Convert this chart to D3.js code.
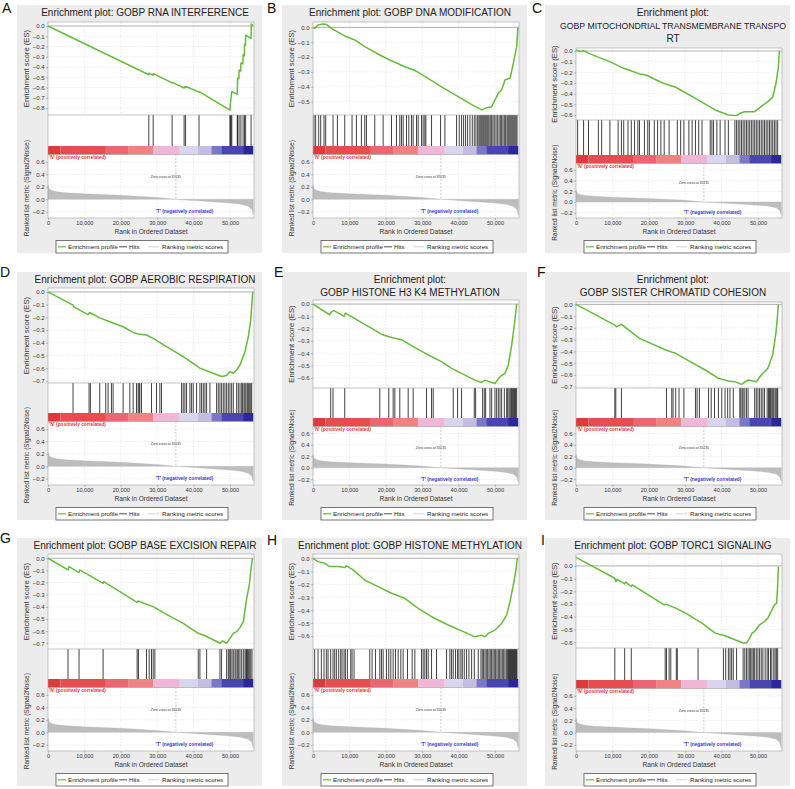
<!DOCTYPE html>
<html><head><meta charset="utf-8">
<script src="https://cdn.jsdelivr.net/npm/d3@7"></script>
<style>
body{margin:0;background:#fff}
svg{display:block}
text{font-family:"Liberation Sans",Arial,sans-serif}
</style>
</head><body>
<svg id="chart" width="795" height="789"></svg>
<script>
// ---------------- DATA ----------------
const panelLetters = ["A","B","C","D","E","F","G","H","I"];
const panelTitles = [
  ["Enrichment plot: GOBP RNA INTERFERENCE"],
  ["Enrichment plot: GOBP DNA MODIFICATION"],
  ["Enrichment plot:", "GOBP MITOCHONDRIAL TRANSMEMBRANE TRANSPO", "RT"],
  ["Enrichment plot: GOBP AEROBIC RESPIRATION"],
  ["Enrichment plot:", "GOBP HISTONE H3 K4 METHYLATION"],
  ["Enrichment plot:", "GOBP SISTER CHROMATID COHESION"],
  ["Enrichment plot: GOBP BASE EXCISION REPAIR"],
  ["Enrichment plot: GOBP HISTONE METHYLATION"],
  ["Enrichment plot: GOBP TORC1 SIGNALING"]
];
const xTicks = [0, 10000, 20000, 30000, 40000, 50000];
const rankTicks = [-0.2, 0.0, 0.2, 0.4, 0.6];
const zeroCross = 35135;
const legendLabels = ["Enrichment profile", "Hits", "Ranking metric scores"];
const posLabel = "'N' (positively correlated)";
const negLabel = "'T' (negatively correlated)";

// ranked list metric (same list for all panels)
const rankMetric = [[0,0.23],[300,0.17],[1000,0.14],[2500,0.12],[5000,0.105],[10000,0.09],[20000,0.065],[30000,0.03],[35135,0],[40000,-0.02],[45000,-0.04],[50000,-0.06],[53000,-0.08],[55000,-0.11],[56000,-0.16],[56400,-0.25]];
// colour bar
const cbStops = [0,3400,15900,22000,28900,36200,41200,44900,47600,53600,56400];
const cbColors = ["#dc3a3c","#e54d50","#ea6672","#ef8282","#f0b6d6","#d9d5ee","#c3bde2","#7a76c8","#4a46b0","#2a2898"];

// enrichment score curves [rank, ES]
const esA = [[0,0],[27700,-0.475],[27750,-0.46],[28900,-0.48],[28950,-0.465],[34100,-0.555],[34150,-0.55],[37400,-0.605],[37450,-0.595],[37800,-0.6],[37850,-0.59],[41500,-0.645],[41550,-0.64],[50000,-0.82],[50100,-0.76],[50300,-0.70],[50500,-0.64],[52000,-0.665],[52100,-0.51],[52450,-0.515],[52500,-0.43],[52950,-0.44],[53000,-0.36],[53550,-0.37],[53600,-0.28],[53950,-0.29],[54000,-0.18],[54250,-0.185],[54300,-0.09],[55800,-0.12],[55850,0.02],[56400,0.0]];
const esB = [[0,0],[460,-0.007],[1380,0.016],[2750,0.022],[3670,0.02],[5050,-0.007],[8720,-0.058],[11470,-0.085],[14220,-0.13],[18350,-0.186],[21100,-0.22],[25230,-0.265],[27980,-0.29],[30730,-0.33],[35320,-0.40],[39910,-0.466],[43580,-0.52],[46330,-0.556],[47250,-0.545],[49080,-0.534],[50920,-0.444],[51830,-0.42],[52750,-0.354],[54130,-0.343],[55040,-0.242],[55960,-0.13],[56300,0]];
const esC = [[0,0.01],[1175,-0.006],[2080,0.003],[3435,-0.02],[5695,-0.053],[9310,-0.1],[12930,-0.16],[14740,-0.18],[17450,-0.215],[19255,-0.225],[23775,-0.3],[27390,-0.34],[32815,-0.444],[38240,-0.553],[41855,-0.6],[44115,-0.606],[45020,-0.584],[46375,-0.569],[49090,-0.569],[50900,-0.52],[52710,-0.475],[54070,-0.43],[54975,-0.30],[55610,-0.147],[55880,0]];
const esD = [[0,0],[6880,-0.104],[7060,-0.117],[11010,-0.178],[11470,-0.162],[14220,-0.204],[16970,-0.235],[20640,-0.274],[23390,-0.319],[25230,-0.334],[27060,-0.339],[28900,-0.366],[32570,-0.43],[37150,-0.51],[41740,-0.60],[45410,-0.64],[47700,-0.666],[49080,-0.658],[50000,-0.627],[50920,-0.64],[51830,-0.614],[52750,-0.575],[54130,-0.47],[55040,-0.353],[55690,-0.222],[56240,0]];
const esE = [[0,0],[4590,-0.087],[5050,-0.065],[5780,-0.054],[8530,-0.10],[8900,-0.074],[17890,-0.229],[18810,-0.245],[20640,-0.264],[22480,-0.278],[24310,-0.29],[27060,-0.338],[30730,-0.40],[35320,-0.469],[38070,-0.523],[41740,-0.578],[44490,-0.619],[46330,-0.638],[47250,-0.619],[49080,-0.638],[50000,-0.646],[50460,-0.627],[51380,-0.591],[52750,-0.564],[53670,-0.496],[54590,-0.332],[55320,-0.169],[55960,0]];
const esF = [[0,0],[10670,-0.176],[11120,-0.19],[12020,-0.176],[12480,-0.17],[17450,-0.289],[24680,-0.388],[26490,-0.408],[27390,-0.416],[31010,-0.48],[35530,-0.558],[39140,-0.629],[41860,-0.652],[43660,-0.657],[45470,-0.68],[47280,-0.643],[48640,-0.652],[49540,-0.657],[50900,-0.60],[52710,-0.544],[54060,-0.43],[54970,-0.232],[55230,-0.147],[55600,0]];
const esG = [[0,0],[5500,-0.096],[5780,-0.069],[8530,-0.118],[8720,-0.096],[15140,-0.206],[15320,-0.192],[24490,-0.363],[24770,-0.352],[27060,-0.379],[28900,-0.398],[32570,-0.462],[37150,-0.536],[41280,-0.618],[42660,-0.632],[44950,-0.665],[47250,-0.70],[47980,-0.68],[49080,-0.70],[50000,-0.66],[50920,-0.618],[51830,-0.604],[52750,-0.571],[53670,-0.522],[54590,-0.33],[55320,-0.22],[55690,-0.11],[56150,0]];
const esH = [[0,0],[1380,-0.026],[3210,-0.039],[4590,-0.064],[6880,-0.064],[8720,-0.072],[9170,-0.057],[11010,-0.09],[14220,-0.168],[17890,-0.219],[21560,-0.27],[25230,-0.309],[28900,-0.387],[32570,-0.451],[37150,-0.515],[41740,-0.572],[44490,-0.606],[46330,-0.593],[47250,-0.606],[48160,-0.58],[50000,-0.554],[51830,-0.503],[53210,-0.438],[54130,-0.335],[55040,-0.206],[55690,-0.103],[56150,0]];
const esI = [[0,0.068],[10670,-0.097],[10940,-0.123],[11300,-0.105],[13380,-0.141],[13650,-0.128],[15190,-0.162],[15460,-0.149],[24230,-0.306],[24680,-0.301],[27390,-0.332],[30100,-0.372],[34620,-0.45],[38240,-0.529],[40950,-0.55],[43660,-0.581],[45920,-0.607],[46830,-0.607],[47730,-0.568],[48360,-0.529],[49090,-0.516],[50440,-0.463],[51800,-0.437],[52710,-0.411],[53610,-0.359],[54510,-0.306],[55140,-0.293],[55420,-0.149],[55600,-0.005]];

// hit positions (rank)
const hitsA = [27700,28900,34100,37400,37800,41500,50000,50100,50300,50500,52000,52100,52500,53000,53600,54000,54300,55800];
const hitsB = [275,734,1560,2110,3030,3490,5500,6700,8720,10730,11930,13300,14220,14680,16970,19270,21560,22940,23850,24310,24770,25690,26330,27060,27520,28440,28900,29820,30270,30730,31010,32570,35050,36240,39450,40180,40820,41380,41920,42480,43120,43760,44310,44770,45230,45590,45870,46150,46420,46700,46970,47250,47520,47800,48070,48350,48710,49080,49450,49810,50270,50640,51100,51470,51830,52200,52570,52930,53300,53580,53850,54130,54400,54680,54950,55230,55500,55780,56050];
const hitsC = [452,2080,3435,6150,7050,9310,11570,12475,13110,14280,15190,16090,16995,17450,18800,19710,20160,21515,22420,23320,24230,25580,27840,28750,29650,31010,31910,32820,33720,34620,36880,37340,37790,38690,39600,40950,41860,43660,44120,44570,45020,45470,45920,46380,46830,47280,47730,48180,48640,49090,49540,49990,50440,50900,51350,51800,52250,52710,53160,53610,54060,54510,54960,55410];
const hitsD = [6880,11280,11650,14220,15870,16510,17430,17890,20640,22480,23390,24310,24770,25050,25230,25690,28440,29820,30730,31190,36700,37150,37610,38070,38990,39450,39910,40820,41740,42200,42660,43120,43580,44490,46330,46790,47250,47700,48160,48620,49080,49540,50000,50460,50920,51830,52290,52750,53210,53480,53850,54130,54400,54770,55040,55320,55690,55960];
const hitsE = [4860,5500,8720,18350,20820,22020,22480,23850,26150,27520,31190,32570,33030,38530,39720,40820,44310,44680,46610,47060,47430,48620,49080,50000,50460,50920,51380,51830,52570,53210,53480,53850,54130,54400,54590,54860,55040,55320,55500,55690,55960];
const hitsF = [10670,10940,12480,24860,26310,26670,27390,28300,29650,32820,33270,33900,36430,37150,38060,39140,40050,40950,41670,42310,43210,45020,45290,45650,45920,46380,46830,47280,49090,49540,49990,50440,50900,51350,51800,52520,52880,53160,53430,53790,54060,54340,54700,54970,55240,55420];
const hitsG = [5500,8530,15140,24490,24860,27060,27800,28440,28900,29360,41280,41740,43580,47250,47700,49080,49540,49810,50180,50550,50920,51380,51650,52020,52390,52750,53210,53670,54130,54400,54590,54770,55040,55320,55690,56050];
const hitsH = [460,1380,2290,3030,3670,4130,4860,5500,5960,6420,7060,7610,7980,8530,8900,9450,10370,10730,11280,15600,16240,17160,18350,18810,19270,20180,20820,21380,22020,22660,23390,24130,24770,25960,27250,27980,29820,30270,30730,31190,31650,32570,33940,36700,37610,38070,38530,39170,39720,40090,40640,41010,41560,42200,42840,43580,44310,45410,46150,46510,46880,47250,47610,47980,48350,48710,49080,49450,49810,50180,50550,50920,51280,51650,52020,52390,52750,53120,53480,53670,53850,54040,54220,54400,54590,54770,54950,55140,55320,55500,55690,55870,56050];
const hitsI = [10670,13380,15190,24500,24860,25580,26040,27570,27840,33540,40500,41130,41860,42310,42760,43210,44120,45920,46380,46830,47280,47730,48000,48360,48730,49090,49540,49990,50440,50900,51350,51980,52520,52880,53430,53790,54340,54700,55060,55420];

const esCurves = [esA, esB, esC, esD, esE, esF, esG, esH, esI];
const hitSets = [hitsA, hitsB, hitsC, hitsD, hitsE, hitsF, hitsG, hitsH, hitsI];
const esDomains = [[-0.868,0.039],[-0.59,0.036],[-0.647,0.028],[-0.717,0.031],[-0.683,0.033],[-0.711,0.02],[-0.747,0.035],[-0.70,0.033],[-0.646,0.094]];

// ---------------- LAYOUT ----------------
const colLeft = [48, 313, 576];
const rowTop = [0, 267, 533];
const plotW = 206;
const rankMax = 56600;
const geo = [
  {esTop:22, esBot:115, cbTop:146},
  {esTop:22, esBot:115, cbTop:146},
  {esTop:48, esBot:120, cbTop:155},
  {esTop:21, esBot:116, cbTop:146},
  {esTop:33, esBot:121, cbTop:151},
  {esTop:35, esBot:121, cbTop:151},
  {esTop:21, esBot:116, cbTop:146},
  {esTop:21, esBot:116, cbTop:146},
  {esTop:21, esBot:115, cbTop:147}
];
const letterPos = [[2,13],[267,13],[532,13],[0,277],[274,277],[537,277],[0,543],[267,545],[541,545]];

const svg = d3.select("#chart");
const green = "#66bb3a";
const gridCol = "#d8d8d8";

function styleAxis(g, fs) {
  g.select(".domain").remove();
  g.selectAll(".tick line").attr("stroke", "#888").attr("stroke-width", 0.5);
  g.selectAll(".tick text").attr("font-size", fs).attr("fill", "#333")
    .attr("font-family", '"Liberation Sans",Arial,sans-serif');
}

panelLetters.forEach((letter, i) => {
  const col = i % 3, row = Math.floor(i / 3);
  const L = colLeft[col], T = rowTop[row], G = geo[i];
  const g = svg.append("g");

  g.append("rect").attr("x", L - 31).attr("y", T + 5).attr("width", 245).attr("height", 248).attr("fill", "#ececec");

  svg.append("text").attr("x", letterPos[i][0]).attr("y", letterPos[i][1])
    .attr("font-size", 14).attr("fill", "#111").text(letter);

  panelTitles[i].forEach((line, k) => {
    const t = g.append("text").attr("x", L + 97).attr("y", T + 16 + 13 * k)
      .attr("text-anchor", "middle").attr("font-size", 10).attr("fill", "#222").text(line);
    const w = t.node().getComputedTextLength();
    if (w > 226) t.attr("font-size", 10 * 226 / w);
  });

  const x = d3.scaleLinear().domain([0, rankMax]).range([L, L + plotW]);
  const esTop = T + G.esTop, esBot = T + G.esBot, cbTop = T + G.cbTop, cbBot = cbTop + 8.5, rBot = T + 218;
  const yE = d3.scaleLinear().domain(esDomains[i]).range([esBot, esTop]);
  const yR = d3.scaleLinear().domain([-0.3, 0.72]).range([rBot, cbBot]);

  g.append("rect").attr("x", L).attr("y", esTop).attr("width", plotW).attr("height", rBot - esTop).attr("fill", "#fff");

  const esTicks = d3.range(0, esDomains[i][0], -0.1).map(v => +v.toFixed(1));
  g.append("g").selectAll("line").data(xTicks.slice(1)).join("line")
    .attr("x1", d => x(d)).attr("x2", d => x(d)).attr("y1", esTop).attr("y2", esBot)
    .attr("stroke", gridCol).attr("stroke-width", 0.5).attr("stroke-dasharray", "1.5,1.5");
  g.append("g").selectAll("line").data(esTicks.filter(v => v !== 0)).join("line")
    .attr("x1", L).attr("x2", L + plotW).attr("y1", d => yE(d)).attr("y2", d => yE(d))
    .attr("stroke", gridCol).attr("stroke-width", 0.5).attr("stroke-dasharray", "1.5,1.5");
  g.append("line").attr("x1", L).attr("x2", L + plotW).attr("y1", yE(0)).attr("y2", yE(0))
    .attr("stroke", "#9a9a9a").attr("stroke-width", 0.8);

  g.append("path").datum(esCurves[i])
    .attr("d", d3.line().x(d => x(d[0])).y(d => yE(d[1])))
    .attr("fill", "none").attr("stroke", green).attr("stroke-width", 1.5).attr("stroke-linejoin", "round");

  g.append("g").selectAll("line").data(hitSets[i]).join("line")
    .attr("x1", d => x(d)).attr("x2", d => x(d)).attr("y1", esBot).attr("y2", cbTop)
    .attr("stroke", "#111").attr("stroke-width", 0.8);

  g.append("g").selectAll("rect").data(cbColors).join("rect")
    .attr("x", (d, k) => x(cbStops[k])).attr("width", (d, k) => x(cbStops[k + 1]) - x(cbStops[k]))
    .attr("y", cbTop).attr("height", cbBot - cbTop).attr("fill", d => d);

  g.append("g").selectAll("line").data(xTicks.slice(1)).join("line")
    .attr("x1", d => x(d)).attr("x2", d => x(d)).attr("y1", cbBot).attr("y2", rBot)
    .attr("stroke", gridCol).attr("stroke-width", 0.5).attr("stroke-dasharray", "1.5,1.5");
  g.append("g").selectAll("line").data(rankTicks).join("line")
    .attr("x1", L).attr("x2", L + plotW).attr("y1", d => yR(d)).attr("y2", d => yR(d))
    .attr("stroke", gridCol).attr("stroke-width", 0.5).attr("stroke-dasharray", "1.5,1.5");

  g.append("path").datum(rankMetric)
    .attr("d", d3.area().x(d => x(d[0])).y0(yR(0)).y1(d => yR(d[1])))
    .attr("fill", "#bdbdbd").attr("stroke", "#b5b5b5").attr("stroke-width", 0.3);

  g.append("line").attr("x1", x(zeroCross)).attr("x2", x(zeroCross)).attr("y1", cbBot).attr("y2", yR(0))
    .attr("stroke", "#999").attr("stroke-width", 0.5).attr("stroke-dasharray", "2,1.5");
  g.append("text").attr("x", x(32400)).attr("y", yR(0.35)).attr("text-anchor", "middle")
    .attr("dominant-baseline", "middle").attr("font-size", 3.4).attr("fill", "#333")
    .text("Zero cross at " + zeroCross);
  g.append("text").attr("x", L + 1).attr("y", cbBot + 4.6).attr("font-size", 4.8).attr("font-weight", "bold")
    .attr("fill", "#e8333a").text(posLabel);
  g.append("text").attr("x", x(37500)).attr("y", yR(-0.2)).attr("text-anchor", "middle")
    .attr("dominant-baseline", "middle").attr("font-size", 4.8).attr("font-weight", "bold")
    .attr("fill", "#3a3ad0").text(negLabel);

  const ol = g.append("g").attr("fill", "none").attr("stroke", "#a0a0a0").attr("stroke-width", 0.6);
  ol.append("rect").attr("x", L).attr("y", esTop).attr("width", plotW).attr("height", rBot - esTop);
  ol.append("line").attr("x1", L).attr("x2", L + plotW).attr("y1", esBot).attr("y2", esBot);
  ol.append("line").attr("x1", L).attr("x2", L + plotW).attr("y1", cbBot).attr("y2", cbBot);

  const ax1 = g.append("g").attr("transform", `translate(${L},0)`)
    .call(d3.axisLeft(yE).tickValues(esTicks).tickFormat(d3.format(".1f")).tickSize(2).tickPadding(1.5));
  styleAxis(ax1, 6);
  const ax2 = g.append("g").attr("transform", `translate(${L},0)`)
    .call(d3.axisLeft(yR).tickValues(rankTicks).tickFormat(d3.format(".1f")).tickSize(2).tickPadding(1.5));
  styleAxis(ax2, 6);
  const ax3 = g.append("g").attr("transform", `translate(0,${rBot})`)
    .call(d3.axisBottom(x).tickValues(xTicks).tickFormat(d3.format(",")).tickSize(2).tickPadding(1.5));
  styleAxis(ax3, 5.6);

  g.append("text").attr("transform", `translate(${L - 19},${(esTop + esBot) / 2}) rotate(-90)`)
    .attr("text-anchor", "middle").attr("font-size", 7.7).attr("fill", "#333").text("Enrichment score (ES)");
  g.append("text").attr("transform", `translate(${L - 19},${(cbBot + rBot) / 2 + 2}) rotate(-90)`)
    .attr("text-anchor", "middle").attr("font-size", 6.5).attr("fill", "#333").text("Ranked list metric (Signal2Noise)");
  g.append("text").attr("x", L + plotW / 2).attr("y", T + 234).attr("text-anchor", "middle")
    .attr("font-size", 6.6).attr("fill", "#333").text("Rank in Ordered Dataset");

  const lg = g.append("g");
  lg.append("rect").attr("x", L + 8).attr("y", T + 240.5).attr("width", 172).attr("height", 12.5)
    .attr("fill", "#fff").attr("stroke", "#555").attr("stroke-width", 0.8);
  const ly = T + 246.8;
  lg.append("line").attr("x1", L + 10).attr("x2", L + 18).attr("y1", ly).attr("y2", ly).attr("stroke", green).attr("stroke-width", 1.2);
  lg.append("line").attr("x1", L + 71).attr("x2", L + 79).attr("y1", ly).attr("y2", ly).attr("stroke", "#222").attr("stroke-width", 0.8);
  lg.append("line").attr("x1", L + 100).attr("x2", L + 111).attr("y1", ly).attr("y2", ly).attr("stroke", "#c8c8c8").attr("stroke-width", 0.8);
  [[20, legendLabels[0]], [81, legendLabels[1]], [114, legendLabels[2]]].forEach(([dx, t]) => {
    lg.append("text").attr("x", L + dx).attr("y", ly + 2.1).attr("font-size", 6.2).attr("fill", "#222").text(t);
  });
});
</script>
</body></html>
